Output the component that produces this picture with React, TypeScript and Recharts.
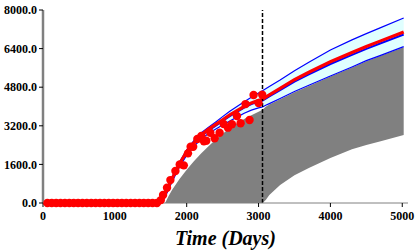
import React from 'react';
import { ComposedChart, Line, Area, Scatter, XAxis, YAxis, ReferenceLine, Label } from 'recharts';

const FONT = '"Liberation Serif", "Times New Roman", serif';

const days = [0, 1620, 1650, 1700, 1750, 1800, 1900, 2000, 2100, 2200, 2300, 2400, 2500, 2600, 2700, 2800, 2900, 3000, 3055, 3100, 3150, 3300, 3500, 3700, 4000, 4300, 4500, 4700, 5020];

const upperBlue = [null, 0, 120, 450, 780, 1100, 1700, 2200, 2580, 2900, 3130, 3350, 3580, 3800, 4000, 4200, 4380, 4560, 4655, 4740, 4830, 5100, 5480, 5830, 6342, 6760, 7020, 7270, 7668];
const midBlue = [null, 0, 80, 350, 680, 1000, 1600, 2100, 2470, 2780, 3000, 3200, 3400, 3600, 3780, 3950, 4100, 4200, 4250, 4330, 4420, 4680, 5030, 5330, 5761, 6140, 6390, 6620, 6984];
const redLine = [0, 0, 100, 380, 710, 1030, 1630, 2130, 2500, 2820, 3050, 3250, 3450, 3650, 3830, 4000, 4150, 4260, 4300, 4390, 4480, 4750, 5110, 5420, 5857, 6240, 6490, 6720, 7088];
const lowerBlue = [null, 0, 30, 250, 580, 900, 1500, 1980, 2350, 2650, 2870, 3060, 3230, 3400, 3560, 3720, 3850, 3940, 3980, 4050, 4120, 4330, 4620, 4880, 5264, 5640, 5900, 6120, 6480];
const grayTop = [null, null, null, 0, 300, 560, 1000, 1380, 1730, 2050, 2340, 2620, 2870, 3100, 3300, 3480, 3640, 3780, 3870, 3990, 4080, 4300, 4590, 4850, 5240, 5620, 5880, 6100, 6460];
const grayBottom = [null, null, null, 0, 0, 0, 0, 0, 0, 0, 0, 0, 0, 0, 0, 0, 0, 0, 0, 124, 330, 746, 1150, 1450, 1865, 2230, 2404, 2560, 2818];

const zeroDotDays = [61, 122, 183, 244, 305, 366, 427, 488, 549, 610, 671, 732, 793, 854, 915, 976, 1037, 1098, 1159, 1220, 1281, 1342, 1403, 1464, 1525, 1586];
const riseDotDays = [1640, 1671, 1726, 1773, 1843, 1903, 1960, 2018, 2055, 2090, 2148, 2204, 2240, 2273, 2329, 2389, 2458, 2514, 2574, 2629, 2699, 2750, 2819, 2875, 2931, 3000, 3051];
const riseDotValues = [120, 332, 635, 950, 1326, 1600, 1560, 2057, 2335, 2330, 2653, 2777, 2560, 2584, 2914, 2682, 2914, 3275, 3123, 3262, 3606, 3303, 4100, 3440, 4477, 4140, 4490];

const xTicks = [0, 1000, 2000, 3000, 4000, 5000];
const yTicks = [0, 1600, 3200, 4800, 6400, 8000];
const forecastStart = 3055;

const table = days.map((day, i) => ({
  day,
  upper: upperBlue[i],
  mid: midBlue[i],
  red: redLine[i],
  lower: lowerBlue[i],
  gray: grayTop[i] !== null && grayBottom[i] !== null ? [grayBottom[i], grayTop[i]] : null,
  cyan: upperBlue[i] !== null && lowerBlue[i] !== null ? [lowerBlue[i], upperBlue[i]] : null,
}));

const dots = [
  ...zeroDotDays.map((day) => ({ day, value: 0 })),
  ...riseDotDays.map((day, i) => ({ day, value: riseDotValues[i] })),
];

const tickStyle = { fill: '#000', fontSize: 12, fontWeight: 'bold', fontFamily: FONT };

const Dot = (props: any) => <circle cx={props.cx} cy={props.cy} r={4.2} fill="#FF0000" />;

export default function App() {
  return (
    <div style={{ position: 'absolute', left: 0, top: 0, width: 415, height: 250, background: '#fff' }}>
      <ComposedChart width={415} height={250} data={table} margin={{ top: 10, right: 7, left: 0, bottom: 0 }}>
        <XAxis
          dataKey="day"
          type="number"
          domain={[0, 5080]}
          ticks={xTicks}
          allowDataOverflow
          height={47}
          axisLine={{ stroke: '#808080', strokeWidth: 1 }}
          tickLine={{ stroke: '#000' }}
          tickSize={4}
          tickMargin={4}
          tick={tickStyle}
        >
          <Label
            value="Time (Days)"
            position="insideBottom"
            offset={5}
            style={{ fontFamily: FONT, fontWeight: 'bold', fontStyle: 'italic', fontSize: 20, fill: '#000' }}
          />
        </XAxis>
        <YAxis
          type="number"
          domain={[0, 8000]}
          ticks={yTicks}
          width={43}
          axisLine={{ stroke: '#808080', strokeWidth: 2.5 }}
          tickLine={{ stroke: '#000' }}
          tickSize={4}
          tickMargin={2}
          tick={tickStyle}
          tickFormatter={(v: number) => v.toFixed(1)}
        />
        <Area dataKey="gray" stroke="none" fill="#808080" fillOpacity={1} isAnimationActive={false} />
        <Area dataKey="cyan" stroke="none" fill="#E0FFFF" fillOpacity={1} isAnimationActive={false} />
        <Line dataKey="upper" stroke="#0000FF" strokeWidth={1.2} dot={false} isAnimationActive={false} />
        <Line dataKey="lower" stroke="#0000FF" strokeWidth={1.2} dot={false} isAnimationActive={false} />
        <Line dataKey="mid" stroke="#0000FF" strokeWidth={2} dot={false} isAnimationActive={false} />
        <Line dataKey="red" stroke="#FF0000" strokeWidth={3.2} dot={false} isAnimationActive={false} />
        <Scatter data={dots} dataKey="value" shape={Dot} isAnimationActive={false} />
        <ReferenceLine x={forecastStart} stroke="#000" strokeWidth={1.5} strokeDasharray="4 2" />
      </ComposedChart>
    </div>
  );
}
